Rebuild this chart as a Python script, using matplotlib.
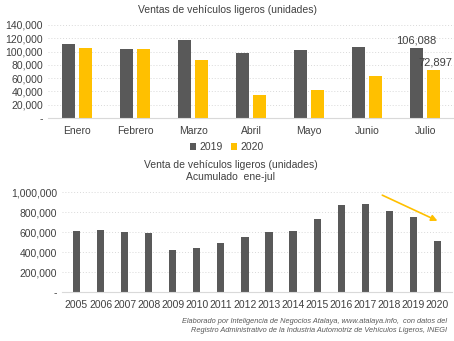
import matplotlib.pyplot as plt
import numpy as np
from matplotlib.ticker import FuncFormatter

plt.rcParams['font.family'] = ['Liberation Sans', 'DejaVu Sans']

# Ventas mensuales
meses = ['Enero', 'Febrero', 'Marzo', 'Abril', 'Mayo', 'Junio', 'Julio']
ventas_2019 = [111300, 103300, 117300, 98200, 102200, 107200, 106088]
ventas_2020 = [104800, 104200, 87100, 34700, 41800, 63000, 72897]

# Acumulado enero-julio por año
anios = [2005, 2006, 2007, 2008, 2009, 2010, 2011, 2012,
         2013, 2014, 2015, 2016, 2017, 2018, 2019, 2020]
acumulado = [612000, 617000, 597000, 593000, 416000, 441000, 492000, 547000,
             598000, 608000, 734000, 868000, 882000, 813000, 755000, 515000]

gris = '#595959'
amarillo = '#FFC000'
texto = '#404040'


def miles(v, pos):
    return '-' if v == 0 else f'{v:,.0f}'


def estilo(ax):
    for s in ['top', 'right', 'left']:
        ax.spines[s].set_visible(False)
    ax.spines['bottom'].set_color('#d9d9d9')
    ax.grid(axis='y', color='#d9d9d9', linestyle=(0, (1, 2)), linewidth=0.7)
    ax.set_axisbelow(True)
    ax.tick_params(length=0, labelsize=7.5, colors=texto)
    ax.yaxis.set_major_formatter(FuncFormatter(miles))


fig = plt.figure(figsize=(4.54, 3.41), dpi=100)

# Gráfica mensual
ax1 = fig.add_axes([48 / 454, 1 - 118 / 341, 406 / 454, 93 / 341])
x = np.arange(len(meses))
w = 0.23
ax1.bar(x - 0.145, ventas_2019, w, color=gris, label='2019')
ax1.bar(x + 0.145, ventas_2020, w, color=amarillo, label='2020')
ax1.set_xlim(-0.5, len(meses) - 0.5)
ax1.set_ylim(0, 140000)
ax1.set_yticks(np.arange(0, 140001, 20000))
ax1.set_xticks(x)
ax1.set_xticklabels(meses)
estilo(ax1)
ax1.tick_params(axis='x', pad=6)
ax1.text(x[-1] - 0.145, ventas_2019[-1] + 2500, f'{ventas_2019[-1]:,}',
         ha='center', va='bottom', fontsize=8, color=texto)
ax1.text(x[-1] + 0.17, ventas_2020[-1] + 2500, f'{ventas_2020[-1]:,}',
         ha='center', va='bottom', fontsize=8, color=texto, clip_on=False)
fig.text(227 / 454, 1 - 10 / 341, 'Ventas de vehículos ligeros (unidades)',
         ha='center', va='center', fontsize=7.5, color=texto)
ax1.legend(loc='upper center', bbox_to_anchor=(0.44, -0.16), ncol=2, frameon=False,
           fontsize=7.5, handlelength=0.6, handleheight=0.6, handletextpad=0.3,
           columnspacing=0.8, labelcolor=texto)

# Gráfica acumulada
ax2 = fig.add_axes([62 / 454, 1 - 292 / 341, 390 / 454, 100 / 341])
ax2.bar(anios, acumulado, 0.3, color=gris)
ax2.set_xlim(anios[0] - 0.6, anios[-1] + 0.6)
ax2.set_ylim(0, 1000000)
ax2.set_yticks(np.arange(0, 1000001, 200000))
ax2.set_xticks(anios)
estilo(ax2)
ax2.tick_params(axis='x', pad=6)
ax2.annotate('', xy=(2020.1, 700000), xytext=(2017.6, 980000),
             arrowprops=dict(arrowstyle='-|>', color=amarillo, lw=1.2,
                             mutation_scale=9))
fig.text(231 / 454, 1 - 171 / 341, 'Venta de vehículos ligeros (unidades)\nAcumulado  ene-jul',
         ha='center', va='center', fontsize=7.5, color=texto, linespacing=1.3)

# Fuente
fig.text(0.985, 1 - 326 / 341,
         'Elaborado por Inteligencia de Negocios Atalaya, www.atalaya.info,  con datos del\n'
         'Registro Administrativo de la Industria Automotriz de Vehículos Ligeros, INEGI',
         ha='right', va='center', fontsize=5.3, style='italic', color='#595959',
         linespacing=1.3)

fig.savefig('out.png', dpi=100)
